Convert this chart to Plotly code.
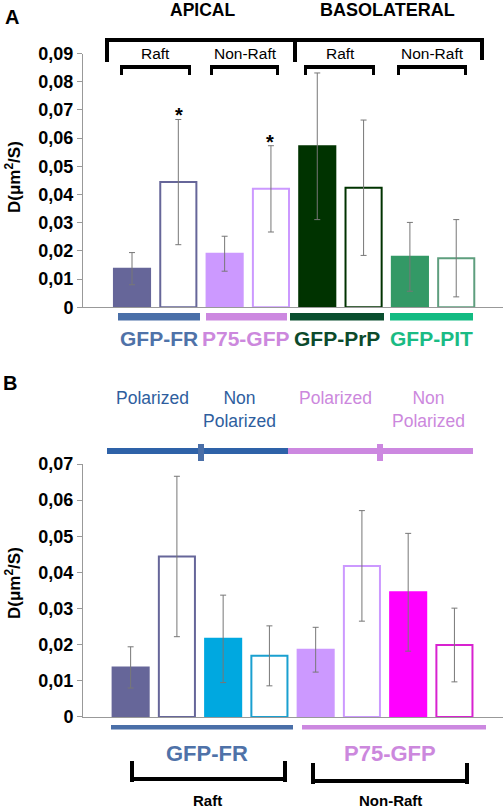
import plotly.graph_objects as go

# ---------------- data ----------------
a_values = [0.0137, 0.0444, 0.0190, 0.0420, 0.0571, 0.0424, 0.0179, 0.0174]
a_errors = [0.0057, 0.0222, 0.0062, 0.0153, 0.0260, 0.0240, 0.0122, 0.0137]
a_fill = ["#666699", "white", "#CC99FF", "white", "#003300", "white", "#339966", "white"]
a_line = ["#666699", "#666699", "#CC99FF", "#CC99FF", "#003300", "#003300", "#339966", "#5E9E7E"]

b_values = [0.0137, 0.0444, 0.0216, 0.0169, 0.0186, 0.0418, 0.0345, 0.0199]
b_errors = [0.0057, 0.0222, 0.0121, 0.0083, 0.0062, 0.0153, 0.0163, 0.0102]
b_fill = ["#666699", "white", "#00A8E0", "white", "#CC99FF", "white", "#FF00FF", "white"]
b_line = ["#666699", "#666699", "#00A8E0", "#1AA0D0", "#CC99FF", "#CC99FF", "#FF00FF", "#D822D0"]

a_ticks = [0, 0.01, 0.02, 0.03, 0.04, 0.05, 0.06, 0.07, 0.08, 0.09]
a_ticktext = ["0", "0,01", "0,02", "0,03", "0,04", "0,05", "0,06", "0,07", "0,08", "0,09"]
b_ticks = [0, 0.01, 0.02, 0.03, 0.04, 0.05, 0.06, 0.07]
b_ticktext = ["0", "0,01", "0,02", "0,03", "0,04", "0,05", "0,06", "0,07"]

a_groups = ["GFP-FR", "P75-GFP", "GFP-PrP", "GFP-PIT"]
a_group_colors = ["#4A6FA8", "#CC88E0", "#0A4F2F", "#12BB82"]
a_group_text_colors = ["#4F72A8", "#CC88DD", "#0C4A2C", "#1ABB84"]
b_groups = ["GFP-FR", "P75-GFP"]
b_group_colors = ["#4A6FA8", "#CC88E0"]

W, H = 504, 810
FONT = "Liberation Sans"


def px(x):
    return x / W


def py(y):
    return 1 - y / H


xs = list(range(8))
fig = go.Figure()

fig.add_trace(go.Bar(
    x=xs, y=a_values, width=0.78, xaxis="x", yaxis="y",
    marker=dict(color=a_fill, line=dict(color=a_line, width=2)),
    error_y=dict(type="data", array=a_errors, color="#777777", thickness=1, width=3),
    showlegend=False, hoverinfo="skip"))

fig.add_trace(go.Bar(
    x=xs, y=b_values, width=0.78, xaxis="x2", yaxis="y2",
    marker=dict(color=b_fill, line=dict(color=b_line, width=2)),
    error_y=dict(type="data", array=b_errors, color="#777777", thickness=1, width=3),
    showlegend=False, hoverinfo="skip"))

axis_common = dict(showgrid=False, zeroline=False, showline=True, linecolor="#999999",
                   linewidth=1, fixedrange=True, automargin=False)

shapes = []
ann = []


def rect(x0, y0, x1, y1, color):
    shapes.append(dict(type="rect", xref="paper", yref="paper",
                       x0=px(x0), y0=py(y0), x1=px(x1), y1=py(y1),
                       fillcolor=color, line=dict(width=0)))


def text(x, y, s, size, color="black", bold=False, angle=0):
    ann.append(dict(xref="paper", yref="paper", x=px(x), y=py(y), text=s,
                    showarrow=False, xanchor="center", yanchor="middle", textangle=angle,
                    font=dict(family=FONT, size=size, color=color,
                              weight="bold" if bold else "normal")))


# ---------- Panel A decorations ----------
text(12, 17, "A", 20, bold=True)
text(202, 10, "APICAL", 17.5, bold=True)
text(387, 10, "BASOLATERAL", 18, bold=True)

# big bracket
rect(105, 38, 484, 42, "black")
rect(105, 38, 109, 62, "black")
rect(293, 38, 297, 62, "black")
rect(480, 38, 484, 60, "black")
text(155, 53, "Raft", 15.5)
text(245, 53, "Non-Raft", 15.5)
text(340, 53, "Raft", 15.5)
text(432, 53, "Non-Raft", 15.5)
# small brackets
for x0, x1 in [(120, 191), (210, 279), (304, 375), (397, 467)]:
    rect(x0, 65, x1, 69, "black")
    rect(x0, 65, x0 + 3, 75, "black")
    rect(x1 - 3, 65, x1, 75, "black")

# asterisks
text(179, 115, "*", 20, bold=True)
text(270, 142, "*", 20, bold=True)

# colored group bars under panel A
for (x0, x1), c in zip([(118, 200), (206, 287), (290, 384), (390, 473)], a_group_colors):
    rect(x0, 313, x1, 320.5, c)
for xc, s, c in zip([159, 246, 337, 431], a_groups, a_group_text_colors):
    text(xc, 338, s, 21, color=c, bold=True)

text(13, 177, "D(μm<sup>2</sup>/S)", 17, bold=True, angle=-90)

# ---------- Panel B decorations ----------
text(10, 383, "B", 20, bold=True)
text(152, 398, "Polarized", 17.5, color="#2E5E9E")
text(239, 409, "Non<br>Polarized", 17.5, color="#2E5E9E")
text(335, 398, "Polarized", 17.5, color="#CC88DD")
text(428, 409, "Non<br>Polarized", 17.5, color="#CC88DD")

rect(107, 448, 288, 454, "#2E62A8")
rect(288, 448, 473, 454, "#CC88E0")
rect(198, 444, 204, 461, "#4A6FA8")
rect(377, 444, 383, 461, "#CC88E0")

rect(111, 725, 293, 729.5, b_group_colors[0])
rect(302, 725, 486, 729.5, b_group_colors[1])
text(207, 753, b_groups[0], 22, color="#4F72A8", bold=True)
text(390, 753, b_groups[1], 22, color="#CC88DD", bold=True)

# upward brackets
rect(130, 761, 134, 782, "black")
rect(283, 761, 287, 782, "black")
rect(130, 777, 287, 781, "black")
rect(311, 763, 315, 784, "black")
rect(465, 763, 469, 784, "black")
rect(311, 779, 469, 783, "black")
text(207, 800, "Raft", 15, bold=True)
text(390, 800, "Non-Raft", 15, bold=True)

text(13, 583, "D(μm<sup>2</sup>/S)", 17, bold=True, angle=-90)

tickfont = dict(family=FONT, size=18, color="black", weight="bold")

fig.update_layout(
    width=W, height=H, margin=dict(l=0, r=0, t=0, b=0, pad=0, autoexpand=False),
    paper_bgcolor="white", plot_bgcolor="white",
    bargap=0.2, showlegend=False,
    xaxis=dict(domain=[px(83), px(503)], range=[-1.058, 8.01], showticklabels=False,
               ticks="", anchor="y", **axis_common),
    yaxis=dict(domain=[py(307.3), py(53.5)], range=[0, 0.09], tickvals=a_ticks,
               ticktext=a_ticktext, ticks="outside", ticklen=5, tickcolor="#999999",
               tickfont=tickfont, anchor="x", **axis_common),
    xaxis2=dict(domain=[px(83), px(503)], range=[-1.03, 8.05], showticklabels=False,
                ticks="", anchor="y2", **axis_common),
    yaxis2=dict(domain=[py(716.9), py(464)], range=[0, 0.07], tickvals=b_ticks,
                ticktext=b_ticktext, ticks="outside", ticklen=5, tickcolor="#999999",
                tickfont=tickfont, anchor="x2", **axis_common),
    shapes=shapes, annotations=ann,
)

fig.write_html("out.html", config={"displayModeBar": False},
               post_script="document.body.style.margin='0';")
